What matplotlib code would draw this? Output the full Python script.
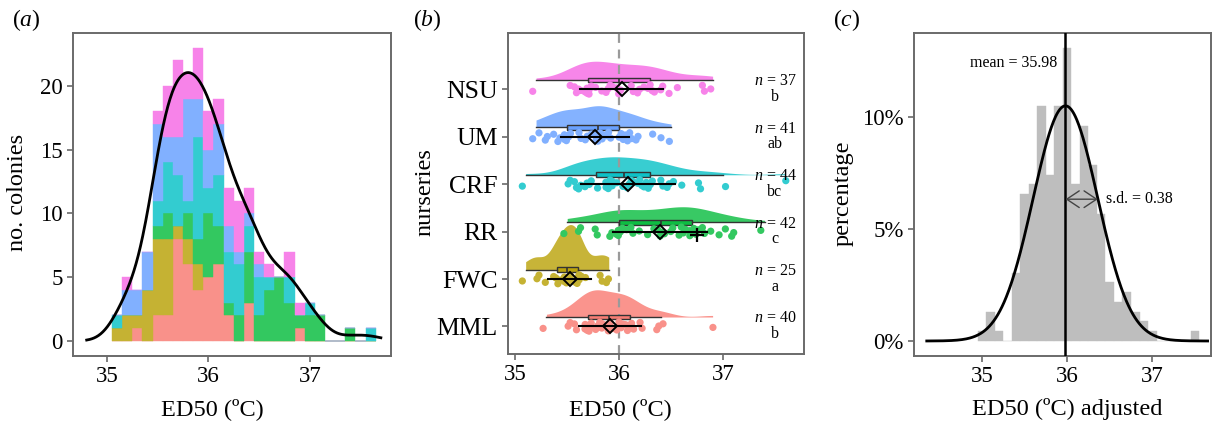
import numpy as np
import matplotlib
matplotlib.use('Agg')
import matplotlib.pyplot as plt
from matplotlib.colors import to_rgb

plt.rcParams['font.family'] = ['Liberation Serif', 'DejaVu Serif']
plt.rcParams['mathtext.fontset'] = 'custom'
plt.rcParams['mathtext.rm'] = 'Liberation Serif'
plt.rcParams['mathtext.it'] = 'Liberation Serif:italic'

# ---------------- data ----------------
nurseries = ['MML', 'FWC', 'RR', 'CRF', 'UM', 'NSU']
letters = ['b', 'a', 'c', 'bc', 'ab', 'b']
colors = ['#F8766D', '#B79F00', '#00BA38', '#00BFC4', '#619CFF', '#F564E3']

bins_a = [35.1, 35.2, 35.3, 35.4, 35.5, 35.6, 35.7, 35.8, 35.9, 36.0,
          36.1, 36.2, 36.3, 36.4, 36.5, 36.6, 36.7, 36.8, 36.9, 37.0,
          37.1, 37.2, 37.3, 37.4, 37.5, 37.6]
counts_MML = [0, 0, 1, 0, 2, 2, 8, 6, 4, 5, 6, 2, 0, 3, 0, 0, 0, 0, 1, 0, 0, 0, 0, 0, 0, 0]
counts_FWC = [1, 2, 1, 4, 6, 6, 1, 2, 2, 0, 0, 0, 0, 0, 0, 0, 0, 0, 0, 0, 0, 0, 0, 0, 0, 0]
counts_RR = [0, 0, 0, 0, 1, 2, 0, 2, 2, 5, 3, 1, 2, 4, 2, 4, 5, 3, 1, 2, 2, 0, 0, 1, 0, 0]
counts_CRF = [1, 0, 0, 0, 2, 4, 4, 1, 8, 2, 4, 4, 4, 2, 3, 1, 0, 2, 0, 1, 0, 0, 0, 0, 0, 1]
counts_UM = [0, 2, 2, 3, 6, 2, 3, 8, 3, 3, 4, 2, 1, 1, 1, 0, 0, 0, 0, 0, 0, 0, 0, 0, 0, 0]
counts_NSU = [0, 1, 0, 0, 1, 4, 6, 2, 4, 3, 2, 3, 4, 2, 1, 1, 0, 2, 1, 0, 0, 0, 0, 0, 0, 0]
counts_by_nursery = [counts_MML, counts_FWC, counts_RR, counts_CRF, counts_UM, counts_NSU]

bins_c = [35.0, 35.1, 35.2, 35.3, 35.4, 35.5, 35.6, 35.7, 35.8, 35.9,
          36.0, 36.1, 36.2, 36.3, 36.4, 36.5, 36.6, 36.7, 36.8, 36.9,
          37.0, 37.1, 37.2, 37.3, 37.4, 37.5]
counts_c = [1, 3, 1, 0, 7, 15, 16, 24, 17, 24, 30, 16, 22, 18, 13, 6, 4, 5, 3, 2,
            1, 0, 0, 0, 0, 1]
mean_adj = 35.98
sd_adj = 0.38

xticks = [35, 36, 37]
yticks_a = [0, 5, 10, 15, 20]
yticks_c = [0, 5, 10]
ytick_labels_c = ['0%', '5%', '10%']

# ---------------- helpers ----------------
BW = 0.1
FRAME = '#6A6A6A'


def light(c, a):
    r, g, b = to_rgb(c)
    return (1 - a + a * r, 1 - a + a * g, 1 - a + a * b)


def bw_nrd0(x):
    sd = np.std(x, ddof=1)
    q75, q25 = np.percentile(x, [75, 25])
    lo = min(sd, (q75 - q25) / 1.34)
    if lo <= 0:
        lo = sd
    return 0.9 * lo * len(x) ** -0.2


def kde(x, grid, bw):
    z = (grid[:, None] - x[None, :]) / bw
    return np.exp(-0.5 * z ** 2).sum(1) / (len(x) * bw * np.sqrt(2 * np.pi))


def style(ax):
    for sp in ax.spines.values():
        sp.set_color(FRAME)
        sp.set_linewidth(1.4)
    ax.tick_params(axis='x', color=FRAME, length=4.5, width=1.2, labelsize=16.5, pad=2.5)
    ax.tick_params(axis='y', color=FRAME, length=4.5, width=1.2, labelsize=16.5, pad=3)


fig = plt.figure(figsize=(12.17, 4.28), dpi=100)
W, H = 1217, 428


def axes_px(l, r, t, b):
    return fig.add_axes([l / W, 1 - b / H, (r - l) / W, (b - t) / H])


# ---------------- panel a ----------------
axa = axes_px(73, 391, 33, 356)
bins_arr = np.array(bins_a)
bottom = np.zeros(len(bins_a))
for cnt, c in zip(counts_by_nursery, colors):
    cnt = np.array(cnt, dtype=float)
    fc = light(c, 0.8)
    axa.bar(bins_arr, cnt, width=BW, bottom=bottom, color=fc, edgecolor=fc,
            linewidth=0.3, zorder=1)
    bottom += cnt

all_vals = np.concatenate([np.repeat(bins_arr, cnt) for cnt in counts_by_nursery])
grid_a = np.linspace(34.8, 37.7, 400)
dens_a = kde(all_vals, grid_a, bw_nrd0(all_vals)) * len(all_vals) * BW
axa.plot(grid_a, dens_a, color='black', lw=2, zorder=3)
axa.set_xlim(34.665, 37.80)
axa.set_ylim(-1.18, 24.15)
axa.set_xticks(xticks)
axa.set_yticks(yticks_a)
style(axa)

# ---------------- panel b ----------------
axb = axes_px(508, 804, 33, 354)
axb.axvline(36, color='#9A9A9A', lw=1.6, ls=(0, (4, 3)), zorder=1.5)

group_vals = [np.repeat(bins_arr, cnt) for cnt in counts_by_nursery]
dens_list = []
for vals in group_vals:
    g = np.linspace(vals.min(), vals.max(), 300)
    dens_list.append((g, kde(vals, g, bw_nrd0(vals))))
gmax = max(d.max() for _, d in dens_list)

for i, (name, vals, c) in enumerate(zip(nurseries, group_vals, colors)):
    row = i + 1
    base = row + 0.2
    g, d = dens_list[i]
    axb.fill_between(g, base, base + d / gmax * 0.95, color=light(c, 0.78),
                     lw=0, zorder=1)
    axb.boxplot(vals, positions=[base], widths=0.1, orientation='horizontal',
                patch_artist=True, showfliers=False, showcaps=False, whis=1.5,
                manage_ticks=False,
                boxprops=dict(facecolor=light(c, 0.95), edgecolor='#333333', lw=1),
                medianprops=dict(color='#333333', lw=1.2),
                whiskerprops=dict(color='#333333', lw=1))
    n = len(vals)
    k = np.arange(n)
    yj = ((k * 0.618034 + 0.3) % 1 - 0.5) * 0.2
    xj = ((k * 0.7548777 + 0.1) % 1 - 0.5) * 0.08
    axb.scatter(vals + xj, row + yj, s=27, color=light(c, 0.8), edgecolors='none',
                zorder=3)
    m = vals.mean()
    s = vals.std(ddof=1)
    axb.plot([m - s, m + s], [row, row], color='black', lw=1.5, zorder=4)
    axb.plot([m], [row], marker='D', ms=7, mfc='none', mec='black', mew=1.4,
             zorder=5)
    axb.text(37.5, row + 0.17, f'$n$ = {n}', fontsize=11.5, ha='center', va='center',
             zorder=6)
    axb.text(37.5, row - 0.16, letters[i], fontsize=11.5, ha='center', va='center',
             zorder=6)

# extra '+' marker in RR row
axb.plot([36.75], [3 - 0.08], marker='+', ms=10, mew=1.6, color='black', zorder=5)

axb.set_xlim(34.93, 37.78)
axb.set_ylim(0.42, 7.19)
axb.set_xticks(xticks)
axb.set_yticks(range(1, 7))
axb.set_yticklabels(nurseries)
style(axb)
axb.tick_params(axis='y', labelsize=18.5, pad=3)

# ---------------- panel c ----------------
axc = axes_px(914, 1211, 33, 356)
counts_c_arr = np.array(counts_c, dtype=float)
pct = counts_c_arr / counts_c_arr.sum() * 100
axc.bar(bins_c, pct, width=BW, color='#BEBEBE', edgecolor='#BEBEBE', lw=0.3,
        zorder=1)
grid_c = np.linspace(34.35, 37.65, 400)
norm_c = np.exp(-0.5 * ((grid_c - mean_adj) / sd_adj) ** 2) / (sd_adj * np.sqrt(2 * np.pi))
axc.plot(grid_c, norm_c * BW * 100, color='black', lw=2, zorder=3)
axc.axvline(mean_adj, color='black', lw=1.8, zorder=4)
axc.text(mean_adj - 0.1, 12.4, f'mean = {mean_adj:.2f}', fontsize=11.5,
         ha='right', va='center')
y_arrow = 6.33
axc.annotate('', xy=(mean_adj + sd_adj, y_arrow), xytext=(mean_adj, y_arrow),
             arrowprops=dict(arrowstyle='<->,head_length=0.45,head_width=0.3',
                             color='#444444', lw=1, shrinkA=0, shrinkB=0,
                             mutation_scale=20), zorder=5)
axc.text(mean_adj + sd_adj + 0.1, y_arrow, f's.d. = {sd_adj:.2f}', fontsize=11.5,
         ha='left', va='center')
axc.set_xlim(34.2, 37.69)
axc.set_ylim(-0.67, 13.75)
axc.set_xticks(xticks)
axc.set_yticks(yticks_c)
axc.set_yticklabels(ytick_labels_c)
style(axc)

# ---------------- labels ----------------
fig.text(12 / W, 1 - 20 / H, '($a$)', fontsize=17, va='center', ha='left')
fig.text(413 / W, 1 - 20 / H, '($b$)', fontsize=17, va='center', ha='left')
fig.text(833 / W, 1 - 20 / H, '($c$)', fontsize=17, va='center', ha='left')

fig.text(18 / W, 1 - 192 / H, 'no. colonies', fontsize=17.5, rotation=90,
         ha='center', va='center')
fig.text(425 / W, 1 - 192 / H, 'nurseries', fontsize=17.5, rotation=90,
         ha='center', va='center')
fig.text(843 / W, 1 - 193 / H, 'percentage', fontsize=17.5, rotation=90,
         ha='center', va='center')

fig.text(212 / W, 1 - 409 / H, 'ED50 (ºC)', fontsize=17.5, ha='center', va='center')
fig.text(620 / W, 1 - 409 / H, 'ED50 (ºC)', fontsize=17.5, ha='center', va='center')
fig.text(1067 / W, 1 - 409 / H, 'ED50 (ºC) adjusted', fontsize=17.5, ha='center',
         va='center')

fig.savefig('out.png', dpi=100)
